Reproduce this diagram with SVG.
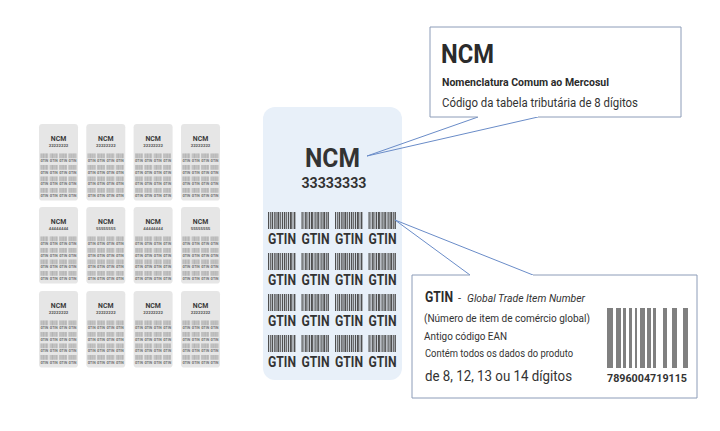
<svg xmlns="http://www.w3.org/2000/svg" xmlns:xlink="http://www.w3.org/1999/xlink" width="720" height="431" viewBox="0 0 720 431">
<style>
text{font-family:Roboto,"Liberation Sans",sans-serif}
.ncm{font-weight:700;font-size:26px;text-anchor:middle}
.num{font-weight:700;font-size:15px;text-anchor:middle}
.gl{font-weight:700;font-size:14px;text-anchor:middle}
.sc{fill:#e6e6e6}
.sbars{fill:#9b9b9b}
.slab{fill:#6e6e6e}
.stxt{fill:#3a3a3a}
.snum{fill:#5a5a5a}
.box{fill:#ffffff;stroke:#8c9cb8;stroke-width:1}
.tail{fill:none;stroke:#6a8cc8;stroke-width:1}
</style>
<defs>
<g id="bc">
<rect x="0" width="1.2" height="17"/><rect x="2" width="0.8" height="17"/><rect x="3.6" width="1.6" height="17"/><rect x="6" width="0.8" height="17"/><rect x="7.4" width="1.2" height="17"/><rect x="9.4" width="2" height="17"/><rect x="12.2" width="0.8" height="17"/><rect x="13.8" width="1.2" height="17"/><rect x="15.8" width="1.6" height="17"/><rect x="18.2" width="0.8" height="17"/><rect x="19.8" width="1.2" height="17"/><rect x="21.8" width="2" height="17"/><rect x="24.6" width="0.8" height="17"/><rect x="26" width="1.4" height="17"/>
</g>
<g id="bars">
<use href="#bc" x="5" y="105"/><use href="#bc" x="38.5" y="105"/><use href="#bc" x="72" y="105"/><use href="#bc" x="105.5" y="105"/>
<use href="#bc" x="5" y="146"/><use href="#bc" x="38.5" y="146"/><use href="#bc" x="72" y="146"/><use href="#bc" x="105.5" y="146"/>
<use href="#bc" x="5" y="187"/><use href="#bc" x="38.5" y="187"/><use href="#bc" x="72" y="187"/><use href="#bc" x="105.5" y="187"/>
<use href="#bc" x="5" y="228"/><use href="#bc" x="38.5" y="228"/><use href="#bc" x="72" y="228"/><use href="#bc" x="105.5" y="228"/>
</g>
<g id="labels">
<text class="gl" x="19" y="137" textLength="28" lengthAdjust="spacingAndGlyphs">GTIN</text><text class="gl" x="52.5" y="137" textLength="28" lengthAdjust="spacingAndGlyphs">GTIN</text><text class="gl" x="86" y="137" textLength="28" lengthAdjust="spacingAndGlyphs">GTIN</text><text class="gl" x="119.5" y="137" textLength="28" lengthAdjust="spacingAndGlyphs">GTIN</text>
<text class="gl" x="19" y="178" textLength="28" lengthAdjust="spacingAndGlyphs">GTIN</text><text class="gl" x="52.5" y="178" textLength="28" lengthAdjust="spacingAndGlyphs">GTIN</text><text class="gl" x="86" y="178" textLength="28" lengthAdjust="spacingAndGlyphs">GTIN</text><text class="gl" x="119.5" y="178" textLength="28" lengthAdjust="spacingAndGlyphs">GTIN</text>
<text class="gl" x="19" y="219" textLength="28" lengthAdjust="spacingAndGlyphs">GTIN</text><text class="gl" x="52.5" y="219" textLength="28" lengthAdjust="spacingAndGlyphs">GTIN</text><text class="gl" x="86" y="219" textLength="28" lengthAdjust="spacingAndGlyphs">GTIN</text><text class="gl" x="119.5" y="219" textLength="28" lengthAdjust="spacingAndGlyphs">GTIN</text>
<text class="gl" x="19" y="260" textLength="28" lengthAdjust="spacingAndGlyphs">GTIN</text><text class="gl" x="52.5" y="260" textLength="28" lengthAdjust="spacingAndGlyphs">GTIN</text><text class="gl" x="86" y="260" textLength="28" lengthAdjust="spacingAndGlyphs">GTIN</text><text class="gl" x="119.5" y="260" textLength="28" lengthAdjust="spacingAndGlyphs">GTIN</text>
</g>
<g id="scard">
<rect class="sc" width="139" height="273" rx="12"/>
<use href="#bars" class="sbars"/>
<use href="#labels" class="slab"/>
<text class="ncm stxt" x="69.5" y="60" textLength="55" lengthAdjust="spacingAndGlyphs">NCM</text>
</g>
</defs>
<rect width="720" height="431" fill="#ffffff"/>

<g id="card-1-1" transform="translate(39,124) scale(0.2806)"><use href="#scard"/><text class="num snum" x="69.5" y="82" textLength="70" lengthAdjust="spacingAndGlyphs">22222222</text></g>
<g id="card-1-2" transform="translate(86.3,124) scale(0.2806)"><use href="#scard"/><text class="num snum" x="69.5" y="82" textLength="70" lengthAdjust="spacingAndGlyphs">22222222</text></g>
<g id="card-1-3" transform="translate(133.6,124) scale(0.2806)"><use href="#scard"/><text class="num snum" x="69.5" y="82" textLength="70" lengthAdjust="spacingAndGlyphs">22222222</text></g>
<g id="card-1-4" transform="translate(181,124) scale(0.2806)"><use href="#scard"/><text class="num snum" x="69.5" y="82" textLength="70" lengthAdjust="spacingAndGlyphs">22222222</text></g>

<g id="card-2-1" transform="translate(39,207) scale(0.2806)"><use href="#scard"/><text class="num snum" x="69.5" y="82" textLength="70" lengthAdjust="spacingAndGlyphs">44444444</text></g>
<g id="card-2-2" transform="translate(86.3,207) scale(0.2806)"><use href="#scard"/><text class="num snum" x="69.5" y="82" textLength="70" lengthAdjust="spacingAndGlyphs">55555555</text></g>
<g id="card-2-3" transform="translate(133.6,207) scale(0.2806)"><use href="#scard"/><text class="num snum" x="69.5" y="82" textLength="70" lengthAdjust="spacingAndGlyphs">44444444</text></g>
<g id="card-2-4" transform="translate(181,207) scale(0.2806)"><use href="#scard"/><text class="num snum" x="69.5" y="82" textLength="70" lengthAdjust="spacingAndGlyphs">55555555</text></g>

<g id="card-3-1" transform="translate(39,291) scale(0.2806)"><use href="#scard"/><text class="num snum" x="69.5" y="82" textLength="70" lengthAdjust="spacingAndGlyphs">22222222</text></g>
<g id="card-3-2" transform="translate(86.3,291) scale(0.2806)"><use href="#scard"/><text class="num snum" x="69.5" y="82" textLength="70" lengthAdjust="spacingAndGlyphs">22222222</text></g>
<g id="card-3-3" transform="translate(133.6,291) scale(0.2806)"><use href="#scard"/><text class="num snum" x="69.5" y="82" textLength="70" lengthAdjust="spacingAndGlyphs">22222222</text></g>
<g id="card-3-4" transform="translate(181,291) scale(0.2806)"><use href="#scard"/><text class="num snum" x="69.5" y="82" textLength="70" lengthAdjust="spacingAndGlyphs">22222222</text></g>

<g id="main-card" transform="translate(263,107)">
<rect width="139" height="273" rx="12" fill="#e8f0f9"/>
<use href="#bars" fill="#505050"/>
<use href="#labels" fill="#333333"/>
<text class="ncm" x="69.5" y="60" fill="#333333" textLength="55" lengthAdjust="spacingAndGlyphs">NCM</text>
<text class="num" x="71" y="81" fill="#333333" textLength="65" lengthAdjust="spacingAndGlyphs">33333333</text>
</g>

<g id="connectors">
<path class="tail" d="M478,117 L367,156 L538,117"/>
<path class="tail" d="M470,275 L395,220 L533,275"/>
</g>

<g id="ncm-callout">
<path class="box" d="M478,117 L430,117 L430,27 L681,27 L681,117 L538,117"/>
<text x="441" y="63" font-size="25" font-weight="700" fill="#2b2b2b" textLength="53" lengthAdjust="spacingAndGlyphs">NCM</text>
<text x="442" y="86" font-size="10" font-weight="700" fill="#2b2b2b" textLength="167" lengthAdjust="spacingAndGlyphs">Nomenclatura Comum ao Mercosul</text>
<text x="442" y="107" font-size="12.5" fill="#333333" textLength="196" lengthAdjust="spacingAndGlyphs">Código da tabela tributária de 8 dígitos</text>
</g>

<g id="gtin-callout">
<path class="box" d="M470,275 L412,275 L412,398 L697,398 L697,275 L533,275"/>
<text x="425" y="302" font-size="15" font-weight="700" fill="#2b2b2b" textLength="28" lengthAdjust="spacingAndGlyphs">GTIN</text>
<text x="458" y="302" font-size="11" fill="#333333">-</text>
<text x="467" y="302" font-size="11.5" font-style="italic" fill="#333333" textLength="118" lengthAdjust="spacingAndGlyphs">Global Trade Item Number</text>
<text x="424" y="322" font-size="11.5" fill="#333333" textLength="166" lengthAdjust="spacingAndGlyphs">(Número de item de comércio global)</text>
<text x="424" y="340" font-size="11" fill="#333333" textLength="83" lengthAdjust="spacingAndGlyphs">Antigo código EAN</text>
<text x="425" y="357" font-size="10" fill="#333333" textLength="148" lengthAdjust="spacingAndGlyphs">Contém todos os dados do produto</text>
<text x="425" y="381" font-size="14" fill="#333333" textLength="147" lengthAdjust="spacingAndGlyphs">de 8, 12, 13 ou 14 dígitos</text>
<g fill="#808080">
<rect x="607" y="308" width="6" height="60"/><rect x="616" y="308" width="5" height="60"/><rect x="623" y="308" width="3" height="60"/><rect x="629" y="308" width="3" height="60"/><rect x="635" y="308" width="2" height="60"/><rect x="640" y="308" width="5" height="60"/><rect x="647" y="308" width="4" height="60"/><rect x="653" y="308" width="3" height="60"/><rect x="663" y="308" width="4" height="60"/><rect x="672" y="308" width="5" height="60"/><rect x="683" y="308" width="5" height="60"/>
</g>
<text x="607" y="382" font-size="11.5" font-weight="700" fill="#333333" textLength="80" lengthAdjust="spacingAndGlyphs">7896004719115</text>
</g>
</svg>
